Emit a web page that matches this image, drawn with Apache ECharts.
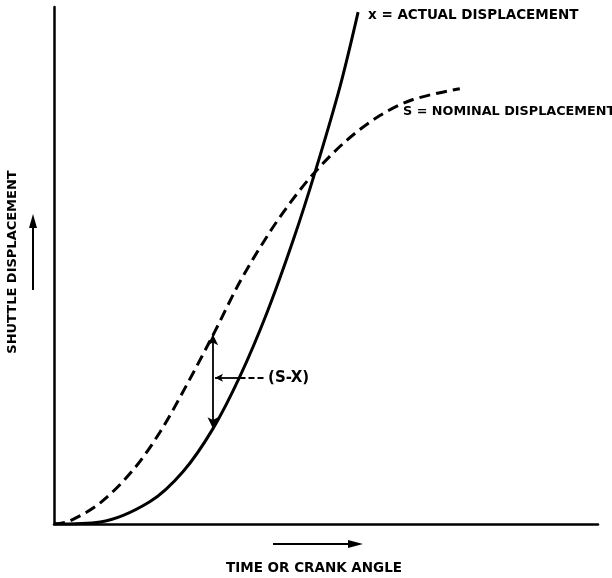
<!DOCTYPE html>
<html style="height: 100%">
 <head>
  <meta charset="utf-8" />
  <script type="text/javascript" src="https://cdn.jsdelivr.net/npm/echarts@6/dist/echarts.min.js"></script>
 </head>
 <body style="height: 100%; margin: 0; background: #fff">
  <div id="main" style="width:612px;height:578px;"></div>
  <script type="text/javascript">
   // curve readings (x = time / crank angle, y = displacement, both 0..100)
   var actualX = [0, 8.5, 17.6, 23.7, 29.2, 34.2, 39.2, 44.1, 48.0, 52.6, 55.9];
   var actualY = [0, 0.4, 4.3, 10.1, 18.4, 28.6, 41.0, 55.3, 68.1, 84.7, 99.0];
   var nominalX = [0, 2.9, 8.5, 14.5, 19.5, 24.6, 29.6, 34.2, 39.2, 43.4, 48.0, 53.9, 59.9, 66.0, 74.6];
   var nominalY = [0, 0.6, 4.1, 10.4, 17.8, 27.3, 37.3, 46.9, 55.7, 62.1, 68.1, 74.3, 79.0, 82.1, 84.2];

   // (s - x) marker: x position of the gap, top (on s), bottom (on x)
   var gapX = 29.2, gapTop = 36.7, gapBottom = 18.5;
   // horizontal pointer: y level, from curve x back to the gap line, leader end
   var ptrY = 28.3, ptrFrom = 34.1, ptrTo = 29.6, leaderEnd = 38.8;

   var labelFont = '"DejaVu Sans", sans-serif';

   function zip(xs, ys) {
     return xs.map(function (x, i) { return [x, ys[i]]; });
   }

   var myChart = echarts.init(document.getElementById('main'));
   var option = {
     animation: false,
     backgroundColor: '#fff',
     grid: { left: 54, top: 7, right: 14, bottom: 54 },
     xAxis: {
       type: 'value', min: 0, max: 100,
       axisLine: { onZero: false, lineStyle: { color: '#000', width: 2.5 } },
       axisTick: { show: false }, axisLabel: { show: false }, splitLine: { show: false }
     },
     yAxis: {
       type: 'value', min: 0, max: 100,
       axisLine: { show: true, onZero: false, lineStyle: { color: '#000', width: 2.5 } },
       axisTick: { show: false }, axisLabel: { show: false }, splitLine: { show: false }
     },
     series: [
       {
         name: 'actual',
         type: 'line',
         data: zip(actualX, actualY),
         smooth: 0.33,
         showSymbol: false,
         lineStyle: { color: '#000', width: 3 }
       },
       {
         name: 'nominal',
         type: 'line',
         data: zip(nominalX, nominalY),
         smooth: 0.33,
         showSymbol: false,
         lineStyle: { color: '#000', width: 3, type: [11, 6] },
         markLine: {
           silent: true,
           symbolSize: [8, 11],
           lineStyle: { color: '#000', width: 1.8, type: 'solid' },
           label: { show: false },
           data: [
             [
               { coord: [gapX, gapTop], symbol: 'arrow' },
               { coord: [gapX, gapBottom], symbol: 'arrow' }
             ],
             [
               { coord: [ptrFrom, ptrY], symbol: 'none' },
               { coord: [ptrTo, ptrY], symbol: 'arrow', symbolSize: [6, 8] }
             ],
             [
               { coord: [ptrFrom, ptrY], symbol: 'none',
                 lineStyle: { type: [6, 3] } },
               { coord: [leaderEnd, ptrY], symbol: 'none',
                 label: {
                   show: true, position: 'end', formatter: '(S-X)', distance: 3,
                   color: '#000', fontSize: 15, fontFamily: labelFont, fontWeight: 'bold'
                 } }
             ]
           ]
         }
       }
     ],
     graphic: [
       {
         type: 'text', left: 368, top: 8,
         style: { text: 'x = ACTUAL DISPLACEMENT', fill: '#000', fontSize: 13.5, fontWeight: 'bold', fontFamily: labelFont }
       },
       {
         type: 'text', left: 403, top: 105,
         style: { text: 'S = NOMINAL DISPLACEMENT', fill: '#000', fontSize: 12.8, fontWeight: 'bold', fontFamily: labelFont }
       },
       {
         type: 'text', x: 13, y: 262, rotation: Math.PI / 2,
         style: { text: 'SHUTTLE DISPLACEMENT', fill: '#000', fontSize: 13, fontWeight: 'bold', fontFamily: labelFont, align: 'center', verticalAlign: 'middle' }
       },
       {
         type: 'line', shape: { x1: 33, y1: 290, x2: 33, y2: 224 },
         style: { stroke: '#000', lineWidth: 2 }
       },
       {
         type: 'polygon', shape: { points: [[29, 228], [37, 228], [33, 214]] },
         style: { fill: '#000' }
       },
       {
         type: 'text', x: 314, y: 568,
         style: { text: 'TIME OR CRANK ANGLE', fill: '#000', fontSize: 13.5, fontWeight: 'bold', fontFamily: labelFont, align: 'center', verticalAlign: 'middle' }
       },
       {
         type: 'line', shape: { x1: 273, y1: 544, x2: 352, y2: 544 },
         style: { stroke: '#000', lineWidth: 2 }
       },
       {
         type: 'polygon', shape: { points: [[348, 540], [348, 548], [363, 544]] },
         style: { fill: '#000' }
       }
     ]
   };
   myChart.setOption(option);
  </script>
 </body>
</html>
